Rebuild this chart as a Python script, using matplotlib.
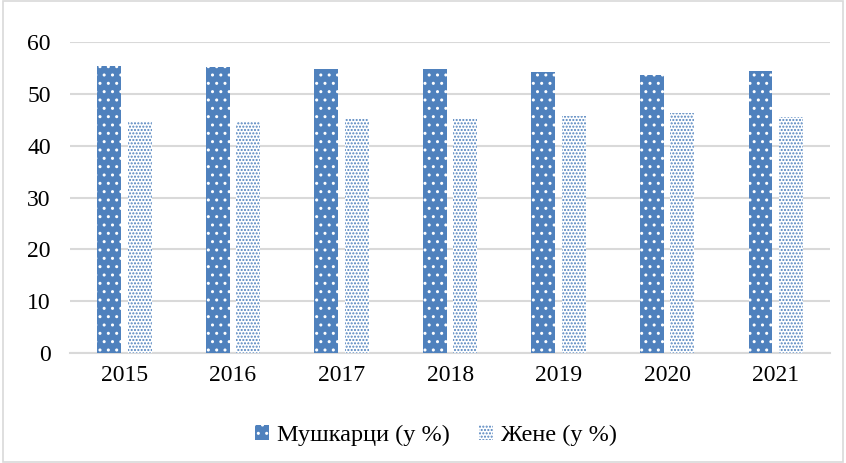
import numpy as np
import matplotlib.pyplot as plt

plt.rcParams['font.family'] = ['Liberation Serif', 'DejaVu Serif']

# data
years = ['2015', '2016', '2017', '2018', '2019', '2020', '2021']
men = [55.3, 55.2, 54.8, 54.8, 54.2, 53.7, 54.4]
women = [44.7, 44.8, 45.2, 45.2, 45.8, 46.3, 45.6]
blue = '#4F81BD'

fig = plt.figure(figsize=(8.46, 4.63), dpi=100)
ax = fig.add_axes([0.083, 0.2376, 0.898, 0.6716])

x = np.arange(len(years))
w = 0.22
ax.bar(x - 0.14, men, w, color=blue, edgecolor='white', hatch='..', lw=0,
       label='Мушкарци (у %)', zorder=3)
ax.bar(x + 0.14, women, w, color='white', edgecolor=blue, hatch='.....', lw=0,
       label='Жене (у %)', zorder=3)

ax.set_ylim(0, 60)
ax.set_xlim(-0.5, len(years) - 0.5)
ax.set_yticks(range(0, 61, 10))
ax.set_xticks(x)
ax.set_xticklabels(years)
ax.tick_params(length=0, labelsize=17, pad=9)
ax.tick_params(axis='y', pad=14)
ax.grid(axis='y', color='#D9D9D9', lw=1.5, zorder=0)
for s in ['top', 'right', 'left']:
    ax.spines[s].set_visible(False)
ax.spines['bottom'].set_color('#D9D9D9')
ax.spines['bottom'].set_linewidth(1.5)

leg = fig.legend(loc='center', bbox_to_anchor=(0.515, 0.06), ncol=2, frameon=False,
                 fontsize=17.5, handlelength=0.6, handleheight=0.6, handletextpad=0.3,
                 columnspacing=1.2)

# outer border
fig.patches.append(plt.Rectangle((0.003, 0.003), 0.994, 0.994, transform=fig.transFigure,
                                 fill=False, edgecolor='#D9D9D9', lw=1.2))

plt.savefig('out.png')
